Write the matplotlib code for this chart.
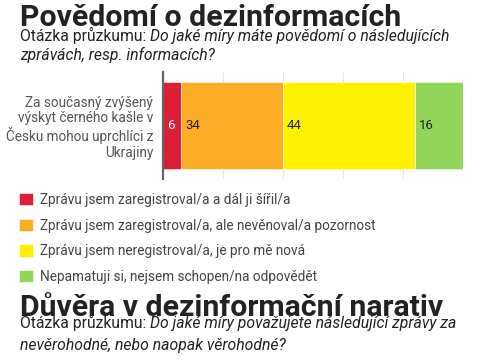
import matplotlib.pyplot as plt

# --- data ---
categories = ["Za současný zvýšený\nvýskyt černého kašle v\nČesku mohou uprchlíci z\nUkrajiny"]
answers = [
    "Zprávu jsem zaregistroval/a a dál ji šířil/a",
    "Zprávu jsem zaregistroval/a, ale nevěnoval/a pozornost",
    "Zprávu jsem neregistroval/a, je pro mě nová",
    "Nepamatuji si, nejsem schopen/na odpovědět",
]
values = [6, 34, 44, 16]
colors = ["#DC1F35", "#FBAD25", "#FFF000", "#91D65B"]
label_colors = ["white", "#222222", "#222222", "#222222"]

title1 = "Povědomí o dezinformacích"
question1 = ["Do jaké míry máte povědomí o následujících", "zprávách, resp. informacích?"]
title2 = "Důvěra v dezinformační narativ"
question2 = ["Do jaké míry považujete následující zprávy za", "nevěrohodné, nebo naopak věrohodné?"]
prefix = "Otázka průzkumu: "

W, H = 485, 360
plt.rcParams['font.family'] = ['Roboto', 'DejaVu Sans']

fig = plt.figure(figsize=(W / 100, H / 100), dpi=100)


def fy(px):
    # y in pixels from top -> figure fraction
    return 1 - px / H


def fx(px):
    return px / W


# --- bar chart ---
ax = fig.add_axes([fx(163), fy(179), fx(463) - fx(163), fy(72) - fy(179)])
left = 0
handles = []
for val, col, lc, name in zip(values, colors, label_colors, answers):
    b = ax.barh(categories, [val], left=left, height=0.82, color=col,
                edgecolor="white", linewidth=0.4, label=name, zorder=3)
    handles.append(b)
    ax.annotate(str(val), xy=(left, 0), xytext=(3, 0), textcoords="offset points",
                ha="left", va="center", fontsize=9.5, color=lc, zorder=4)
    left += val

ax.set_xlim(0, 100)
ax.set_ylim(-0.5, 0.5)
ax.set_xticks([20, 40, 60, 80, 100])
ax.tick_params(axis="x", length=0, labelbottom=False)
ax.tick_params(axis="y", length=0, labelsize=9.8, labelcolor="#555555", pad=7)
for lab in ax.get_yticklabels():
    lab.set_horizontalalignment("right")
    lab.set_multialignment("right")
    lab.set_linespacing(1.15)
ax.grid(axis="x", color="#e6e6e6", linewidth=0.8, zorder=0)
for s in ["top", "right", "bottom"]:
    ax.spines[s].set_visible(False)
ax.spines["left"].set_color("#666666")
ax.spines["left"].set_linewidth(1.6)
ax.spines["left"].set_zorder(5)

# --- legend ---
fig.legend(handles=handles, labels=answers, loc="upper left",
           bbox_to_anchor=(fx(19), fy(193)), frameon=False, fontsize=9.8,
           handlelength=1.0, handleheight=1.0, handletextpad=0.55,
           labelspacing=0.85, borderpad=0, borderaxespad=0,
           labelcolor="#444444")

# --- titles ---
renderer = fig.canvas.get_renderer()


def header(title, question, y_title, y_lines):
    fig.text(fx(20), fy(y_title), title, fontsize=21.8, fontweight="bold",
             color="#222222", va="baseline")
    pre = fig.text(fx(20), fy(y_lines[0]), prefix, fontsize=11.3,
                   color="#222222", va="baseline")
    pre_w = pre.get_window_extent(renderer).width
    fig.text(fx(20 + pre_w), fy(y_lines[0]), question[0], fontsize=11.3,
             style="italic", color="#222222", va="baseline")
    fig.text(fx(20), fy(y_lines[1]), question[1], fontsize=11.3,
             style="italic", color="#222222", va="baseline")


header(title1, question1, 26, [41, 60])
header(title2, question2, 316, [328, 350])

fig.savefig("out.png", dpi=100)
